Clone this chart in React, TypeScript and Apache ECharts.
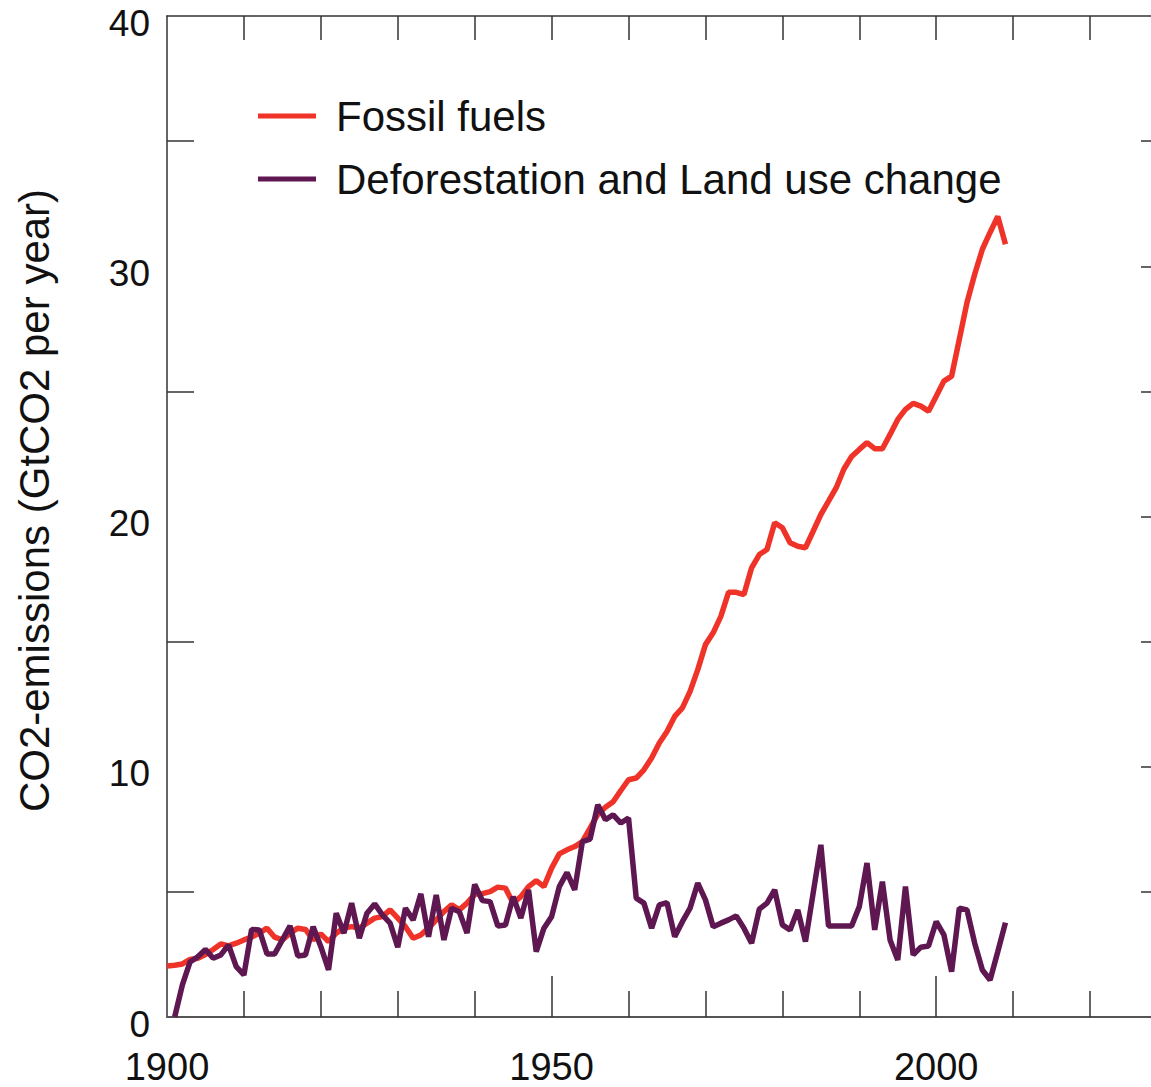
import React, { useEffect, useRef } from "react";
import * as echarts from "echarts";

const fossilStartYear = 1900;
const fossilValues = [
  2.04, 2.07, 2.12, 2.3, 2.35, 2.5, 2.7, 2.92, 2.84, 2.95,
  3.08, 3.19, 3.35, 3.55, 3.19, 3.08, 3.35, 3.55, 3.5, 3.08,
  3.32, 3.01, 3.35, 3.55, 3.61, 3.55, 3.75, 3.95, 4.01, 4.28,
  3.95, 3.61, 3.15, 3.28, 3.55, 3.88, 4.21, 4.48, 4.28, 4.55,
  4.9, 4.93, 5.01, 5.19, 5.15, 4.55, 4.81, 5.21, 5.45, 5.21,
  5.95, 6.52, 6.68, 6.81, 7.01, 7.55, 8.1, 8.38, 8.6, 9.05,
  9.48, 9.55, 9.88, 10.35, 10.95, 11.41, 12.01, 12.35, 13.01, 13.88,
  14.88, 15.35, 16.01, 16.97, 16.97, 16.88, 17.95, 18.48, 18.68, 19.75,
  19.55, 18.95, 18.81, 18.75, 19.41, 20.08, 20.61, 21.15, 21.9, 22.4,
  22.68, 22.95, 22.71, 22.71, 23.28, 23.88, 24.28, 24.52, 24.41, 24.21,
  24.81, 25.41, 25.61, 27.08, 28.55, 29.68, 30.68, 31.35, 31.99, 30.88,
];

const landStartYear = 1901;
const landValues = [
  0.0, 1.28, 2.2, 2.41, 2.7, 2.35, 2.48, 2.88, 2.01,
  1.68, 3.5, 3.48, 2.52, 2.52, 3.08, 3.64, 2.44, 2.48, 3.61,
  2.81, 1.88, 4.15, 3.35, 4.55, 3.15, 4.15, 4.52, 4.08, 3.75,
  2.79, 4.35, 3.88, 4.92, 3.21, 4.88, 3.08, 4.35, 4.21, 3.35,
  5.3, 4.65, 4.61, 3.64, 3.68, 4.81, 3.95, 5.08, 2.61, 3.55,
  4.01, 5.21, 5.77, 5.08, 7.01, 7.11, 8.48, 7.88, 8.08, 7.75,
  7.95, 4.75, 4.55, 3.55, 4.48, 4.57, 3.21, 3.81, 4.35, 5.35,
  4.68, 3.61, 3.75, 3.88, 4.04, 3.55, 2.95, 4.31, 4.55, 5.08,
  3.68, 3.48, 4.28, 3.01, 4.95, 6.88, 3.64, 3.64, 3.64, 3.64,
  4.41, 6.15, 3.48, 5.41, 3.08, 2.28, 5.21, 2.48, 2.79, 2.84,
  3.81, 3.28, 1.81, 4.35, 4.28, 2.95, 1.88, 1.48, 2.61, 3.77,
];

const xLabelValues = [1900, 1950, 2000];
const xMinorTicks = [1910, 1920, 1930, 1940, 1960, 1970, 1980, 1990, 2010, 2020];
const xMajorTicks = [1950, 2000];
const xTopTicks = [1910, 1920, 1930, 1940, 1950, 1960, 1970, 1980, 1990, 2000, 2010, 2020];
const yLabelValues = [0, 10, 20, 30, 40];
const yLeftTicks = [5, 15, 25, 35];
const yRightTicks = [5, 10, 15, 20, 25, 30, 35];

const seriesNames = ["Fossil fuels", "Deforestation and Land use change"];
const yTitle = "CO2-emissions (GtCO2 per year)";

const FONT = "'Liberation Sans', Arial, Helvetica, sans-serif";

export default function App() {
  const ref = useRef<HTMLDivElement>(null);
  useEffect(() => {
    if (!ref.current) return;
    const chart = echarts.init(ref.current, undefined, { renderer: "svg" });
    const fossil = fossilValues.map((v, i) => [fossilStartYear + i, v]);
    const land = landValues.map((v, i) => [landStartYear + i, v]);
    const baseX = { type: "value", min: 1900, max: 2030, splitLine: { show: false } };
    chart.setOption({
      animation: false,
      backgroundColor: "#ffffff",
      grid: { left: 167, top: 16, right: 33, bottom: 70 },
      legend: {
        orient: "vertical",
        left: 258,
        top: 95,
        padding: 0,
        icon: "rect",
        itemWidth: 58,
        itemHeight: 5,
        itemGap: 21,
        textStyle: { fontFamily: FONT, fontSize: 42, color: "#111", padding: [0, 0, 0, 15] },
        data: seriesNames,
      },
      xAxis: [
        {
          ...baseX,
          position: "bottom",
          axisLine: { show: true, lineStyle: { color: "#555", width: 2 } },
          axisTick: { show: true, inside: true, length: 26, customValues: xMinorTicks, lineStyle: { color: "#333", width: 1.5 } },
          axisLabel: {
            show: true,
            customValues: xLabelValues,
            formatter: (v: number) => String(v),
            fontFamily: FONT,
            fontSize: 38,
            color: "#111",
            margin: 31,
          },
        },
        {
          ...baseX,
          position: "bottom",
          axisLine: { show: false },
          axisTick: { show: true, inside: true, length: 41, customValues: xMajorTicks, lineStyle: { color: "#333", width: 1.5 } },
          axisLabel: { show: false },
        },
        {
          ...baseX,
          position: "top",
          axisLine: { show: true, lineStyle: { color: "#333", width: 1.5 } },
          axisTick: { show: true, inside: true, length: 24, customValues: xTopTicks, lineStyle: { color: "#333", width: 1.5 } },
          axisLabel: { show: false },
        },
      ],
      yAxis: [
        {
          type: "value",
          position: "left",
          min: 0,
          max: 40,
          splitLine: { show: false },
          axisLine: { show: true, lineStyle: { color: "#333", width: 1.5 } },
          axisTick: { show: true, inside: true, length: 27, customValues: yLeftTicks, lineStyle: { color: "#333", width: 1.5 } },
          axisLabel: {
            show: true,
            customValues: yLabelValues,
            formatter: (v: number) => String(v),
            fontFamily: FONT,
            fontSize: 37,
            color: "#111",
            margin: 17,
            verticalAlign: "top",
            lineHeight: 14,
          },
          name: yTitle,
          nameLocation: "middle",
          nameGap: 112,
          nameTextStyle: { fontFamily: FONT, fontSize: 42, color: "#111", padding: [0, 0, 0, 32] },
        },
        {
          type: "value",
          position: "right",
          min: 0,
          max: 40,
          splitLine: { show: false },
          axisLine: { show: true, lineStyle: { color: "#333", width: 1.5 } },
          axisTick: { show: true, inside: true, length: 26, customValues: yRightTicks, lineStyle: { color: "#333", width: 1.5 } },
          axisLabel: { show: false },
        },
      ],
      series: [
        {
          name: seriesNames[0],
          type: "line",
          data: fossil,
          showSymbol: false,
          symbol: "none",
          lineStyle: { color: "#ef3329", width: 5.5 },
          itemStyle: { color: "#ef3329" },
          z: 2,
        },
        {
          name: seriesNames[1],
          type: "line",
          data: land,
          showSymbol: false,
          symbol: "none",
          lineStyle: { color: "#5e1750", width: 5.5 },
          itemStyle: { color: "#5e1750" },
          z: 3,
        },
      ],
    });
    return () => chart.dispose();
  }, []);
  return (
    <div style={{ position: "fixed", left: 0, top: 0, width: 1151, height: 1087, overflow: "hidden", background: "#fff" }}>
      <div ref={ref} style={{ width: 1200, height: 1087 }} />
    </div>
  );
}
